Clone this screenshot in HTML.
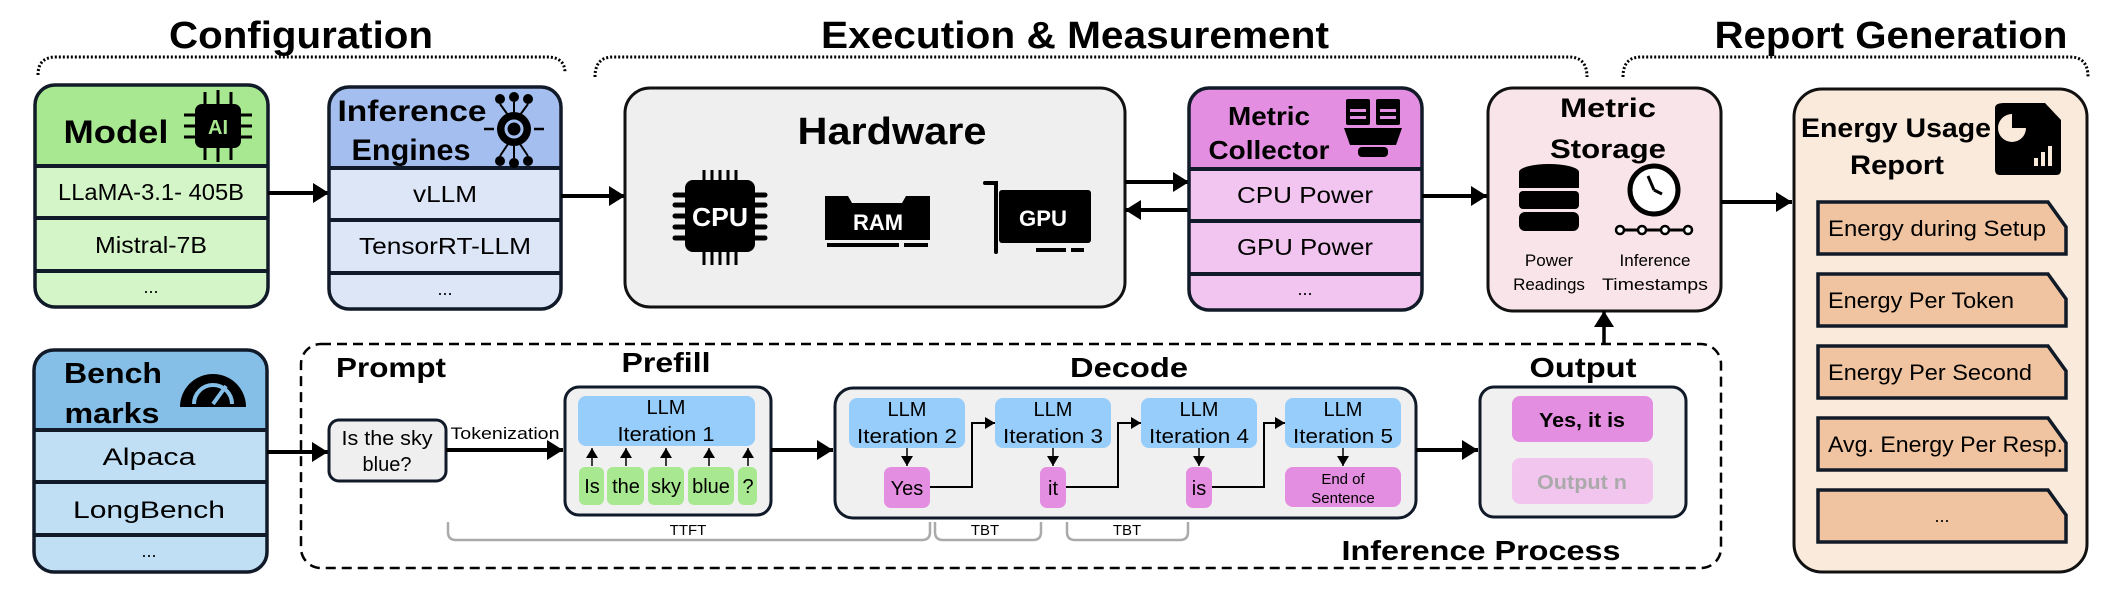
<!DOCTYPE html>
<html><head><meta charset="utf-8"><style>
html,body{margin:0;padding:0;background:#fff;}
svg{display:block;font-family:"Liberation Sans",sans-serif;}
.b{font-weight:bold;}
</style></head><body>
<svg width="2114" height="598" viewBox="0 0 2114 598" xmlns="http://www.w3.org/2000/svg">
<defs>
<marker id="big" markerUnits="userSpaceOnUse" markerWidth="18" markerHeight="20" refX="16" refY="10" orient="auto"><path d="M0,0 L16,10 L0,20 Z" fill="#000"/></marker>
<marker id="sm" markerUnits="userSpaceOnUse" markerWidth="12" markerHeight="12" refX="10" refY="6" orient="auto"><path d="M0,0 L10,6 L0,12 Z" fill="#000"/></marker>
</defs>

<!-- Titles -->
<text x="301" y="48" font-size="38" class="b" text-anchor="middle" textLength="264" lengthAdjust="spacingAndGlyphs">Configuration</text>
<text x="1075" y="48" font-size="38" class="b" text-anchor="middle" textLength="508" lengthAdjust="spacingAndGlyphs">Execution &amp; Measurement</text>
<text x="1891" y="48" font-size="38" class="b" text-anchor="middle" textLength="353" lengthAdjust="spacingAndGlyphs">Report Generation</text>
<g fill="none" stroke="#000" stroke-width="3" stroke-dasharray="2,2">
<path d="M38,75 Q38,57 56,57 L547,57 Q565,57 565,73"/>
<path d="M595,77 Q595,57 613,57 L1569,57 Q1587,57 1587,77"/>
<path d="M1623,77 Q1623,57 1641,57 L2070,57 Q2088,57 2088,77"/>
</g>

<!-- Model -->
<rect x="35" y="85" width="233" height="222" rx="20" fill="#d4f5c8"/>
<path d="M35,166 V105 Q35,85 55,85 H248 Q268,85 268,105 V166 Z" fill="#a8e890"/>
<g stroke="#111a28" stroke-width="4"><line x1="35" y1="166" x2="268" y2="166"/><line x1="35" y1="218" x2="268" y2="218"/><line x1="35" y1="271" x2="268" y2="271"/></g>
<rect x="35" y="85" width="233" height="222" rx="20" fill="none" stroke="#111a28" stroke-width="3.5"/>
<text x="116" y="143" font-size="32" class="b" text-anchor="middle" textLength="105" lengthAdjust="spacingAndGlyphs">Model</text>
<g>
<rect x="195" y="104" width="46" height="44" rx="7" fill="#000"/>
<g stroke="#000" stroke-width="3"><line x1="205" y1="92" x2="205" y2="160"/><line x1="218" y1="90" x2="218" y2="162"/><line x1="231" y1="92" x2="231" y2="160"/><line x1="184" y1="115" x2="252" y2="115"/><line x1="184" y1="126" x2="252" y2="126"/><line x1="184" y1="137" x2="252" y2="137"/></g>
<rect x="199" y="108" width="38" height="36" rx="5" fill="#000"/>
<text x="218" y="134" font-size="20" class="b" fill="#a8e890" text-anchor="middle">AI</text>
</g>
<text x="151" y="200" font-size="23" text-anchor="middle" textLength="186" lengthAdjust="spacingAndGlyphs">LLaMA-3.1- 405B</text>
<text x="151" y="253" font-size="23" text-anchor="middle" textLength="112" lengthAdjust="spacingAndGlyphs">Mistral-7B</text>
<text x="151" y="293" font-size="18" text-anchor="middle">...</text>
<line x1="268" y1="193" x2="329" y2="193" stroke="#000" stroke-width="4" marker-end="url(#big)"/>

<!-- Engines -->
<rect x="329" y="87" width="232" height="222" rx="20" fill="#dce6f7"/>
<path d="M329,168 V107 Q329,87 349,87 H541 Q561,87 561,107 V168 Z" fill="#a4bfef"/>
<g stroke="#111a28" stroke-width="4"><line x1="329" y1="168" x2="561" y2="168"/><line x1="329" y1="220" x2="561" y2="220"/><line x1="329" y1="273" x2="561" y2="273"/></g>
<rect x="329" y="87" width="232" height="222" rx="20" fill="none" stroke="#111a28" stroke-width="3.5"/>
<text x="412" y="121" font-size="30" class="b" text-anchor="middle" textLength="149" lengthAdjust="spacingAndGlyphs">Inference</text>
<text x="411" y="160" font-size="30" class="b" text-anchor="middle" textLength="119" lengthAdjust="spacingAndGlyphs">Engines</text>
<g fill="#000">
<circle cx="514" cy="129" r="17"/>
<circle cx="514" cy="129" r="8" fill="none" stroke="#a4bfef" stroke-width="3"/>
<circle cx="500" cy="99" r="5"/><circle cx="514" cy="97" r="5"/><circle cx="528" cy="99" r="5"/>
<circle cx="500" cy="161" r="5"/><circle cx="514" cy="163" r="5"/><circle cx="528" cy="161" r="5"/>
<path d="M484,129 h10 M534,129 h10" stroke="#000" stroke-width="2.5"/>
<path d="M500,104 L508,115 M514,102 V112 M528,104 L520,115 M500,156 L508,144 M514,158 V146 M528,156 L520,144" stroke="#000" stroke-width="2"/>
</g>
<text x="445" y="202" font-size="23" text-anchor="middle" textLength="64" lengthAdjust="spacingAndGlyphs">vLLM</text>
<text x="445" y="254" font-size="23" text-anchor="middle" textLength="172" lengthAdjust="spacingAndGlyphs">TensorRT-LLM</text>
<text x="445" y="295" font-size="18" text-anchor="middle">...</text>
<line x1="561" y1="196" x2="625" y2="196" stroke="#000" stroke-width="4" marker-end="url(#big)"/>

<!-- Hardware -->
<rect x="625" y="88" width="500" height="219" rx="25" fill="#efefef" stroke="#111" stroke-width="3"/>
<text x="892" y="144" font-size="38" class="b" text-anchor="middle" textLength="189" lengthAdjust="spacingAndGlyphs">Hardware</text>
<!-- CPU -->
<g>
<g stroke="#000" stroke-width="3"><line x1="704" y1="170" x2="704" y2="265"/><line x1="712" y1="170" x2="712" y2="265"/><line x1="720" y1="170" x2="720" y2="265"/><line x1="728" y1="170" x2="728" y2="265"/><line x1="736" y1="170" x2="736" y2="265"/></g>
<g stroke="#000" stroke-width="5" stroke-linecap="round"><line x1="675" y1="195" x2="765" y2="195"/><line x1="675" y1="205" x2="765" y2="205"/><line x1="675" y1="216" x2="765" y2="216"/><line x1="675" y1="227" x2="765" y2="227"/><line x1="675" y1="238" x2="765" y2="238"/></g>
<rect x="685" y="180" width="70" height="72" rx="8" fill="#000"/>
<text x="720" y="226" font-size="26" class="b" fill="#fff" text-anchor="middle" textLength="56" lengthAdjust="spacingAndGlyphs">CPU</text>
</g>
<!-- RAM -->
<path d="M825,196 H848 L852,203 H902 L906,196 H930 V240 H825 Z" fill="#000"/>
<rect x="827" y="243" width="72" height="4" fill="#000"/><rect x="904" y="243" width="24" height="4" fill="#000"/>
<text x="878" y="230" font-size="22" class="b" fill="#fff" text-anchor="middle" textLength="50" lengthAdjust="spacingAndGlyphs">RAM</text>
<!-- GPU -->
<path d="M985,183 H996 V252" fill="none" stroke="#000" stroke-width="4" stroke-linecap="round"/>
<rect x="999" y="190" width="92" height="53" rx="3" fill="#000"/>
<rect x="1036" y="248" width="30" height="4" fill="#000"/><rect x="1071" y="248" width="13" height="4" fill="#000"/>
<text x="1043" y="226" font-size="22" class="b" fill="#fff" text-anchor="middle" textLength="48" lengthAdjust="spacingAndGlyphs">GPU</text>

<!-- HW <-> collector -->
<line x1="1125" y1="182" x2="1189" y2="182" stroke="#000" stroke-width="4" marker-end="url(#big)"/>
<line x1="1189" y1="210" x2="1125" y2="210" stroke="#000" stroke-width="4" marker-end="url(#big)"/>

<!-- Collector -->
<rect x="1189" y="88" width="233" height="222" rx="20" fill="#f1c5ef"/>
<path d="M1189,169 V108 Q1189,88 1209,88 H1402 Q1422,88 1422,108 V169 Z" fill="#e38ee0"/>
<g stroke="#111a28" stroke-width="4"><line x1="1189" y1="169" x2="1422" y2="169"/><line x1="1189" y1="221" x2="1422" y2="221"/><line x1="1189" y1="274" x2="1422" y2="274"/></g>
<rect x="1189" y="88" width="233" height="222" rx="20" fill="none" stroke="#111a28" stroke-width="3.5"/>
<text x="1269" y="125" font-size="26" class="b" text-anchor="middle" textLength="82" lengthAdjust="spacingAndGlyphs">Metric</text>
<text x="1269" y="159" font-size="26" class="b" text-anchor="middle" textLength="121" lengthAdjust="spacingAndGlyphs">Collector</text>
<g fill="#000">
<rect x="1346" y="99" width="24" height="26" rx="2"/><rect x="1376" y="99" width="24" height="26" rx="2"/>
<rect x="1350" y="109" width="16" height="3" fill="#e38ee0"/><rect x="1350" y="116" width="16" height="3" fill="#e38ee0"/>
<rect x="1380" y="109" width="16" height="3" fill="#e38ee0"/><rect x="1380" y="116" width="16" height="3" fill="#e38ee0"/>
<path d="M1344,128 H1402 L1396,145 H1350 Z"/>
<rect x="1358" y="147" width="30" height="10" rx="4"/>
</g>
<text x="1305" y="203" font-size="23" text-anchor="middle" textLength="136" lengthAdjust="spacingAndGlyphs">CPU Power</text>
<text x="1305" y="255" font-size="23" text-anchor="middle" textLength="136" lengthAdjust="spacingAndGlyphs">GPU Power</text>
<text x="1305" y="295" font-size="18" text-anchor="middle">...</text>
<line x1="1422" y1="196" x2="1487" y2="196" stroke="#000" stroke-width="4" marker-end="url(#big)"/>

<!-- Storage -->
<rect x="1488" y="88" width="233" height="223" rx="25" fill="#f9e4e9" stroke="#111" stroke-width="3"/>
<text x="1608" y="117" font-size="27" class="b" text-anchor="middle" textLength="96" lengthAdjust="spacingAndGlyphs">Metric</text>
<text x="1608" y="158" font-size="27" class="b" text-anchor="middle" textLength="116" lengthAdjust="spacingAndGlyphs">Storage</text>
<g fill="#000">
<ellipse cx="1549" cy="172" rx="30" ry="8"/>
<rect x="1519" y="172" width="60" height="16"/>
<rect x="1519" y="191" width="60" height="18" rx="4"/>
<rect x="1519" y="212" width="60" height="19" rx="6"/>
</g>
<circle cx="1654" cy="190" r="24" fill="#fff" stroke="#000" stroke-width="5"/>
<path d="M1654,190 L1648,176 M1654,190 L1662,194" stroke="#000" stroke-width="3"/>
<line x1="1616" y1="230" x2="1692" y2="230" stroke="#000" stroke-width="3"/>
<g fill="#fff" stroke="#000" stroke-width="2.5"><circle cx="1620" cy="230" r="4"/><circle cx="1642" cy="230" r="4"/><circle cx="1665" cy="230" r="4"/><circle cx="1688" cy="230" r="4"/></g>
<text x="1549" y="266" font-size="17" text-anchor="middle">Power</text>
<text x="1549" y="290" font-size="17" text-anchor="middle">Readings</text>
<text x="1655" y="266" font-size="17" text-anchor="middle">Inference</text>
<text x="1655" y="290" font-size="17" text-anchor="middle" textLength="106" lengthAdjust="spacingAndGlyphs">Timestamps</text>
<line x1="1721" y1="202" x2="1792" y2="202" stroke="#000" stroke-width="4" marker-end="url(#big)"/>

<!-- Report -->
<rect x="1794" y="89" width="293" height="483" rx="28" fill="#faeadc" stroke="#111" stroke-width="3"/>
<text x="1896" y="137" font-size="27" class="b" text-anchor="middle" textLength="190" lengthAdjust="spacingAndGlyphs">Energy Usage</text>
<text x="1897" y="174" font-size="27" class="b" text-anchor="middle" textLength="94" lengthAdjust="spacingAndGlyphs">Report</text>
<path d="M2004,103 H2045 L2061,120 V170 Q2061,175 2056,175 H2000 Q1995,175 1995,170 V108 Q1995,103 2004,103 Z" fill="#000"/>
<path d="M2012,114 A14,14 0 1 0 2026,128 H2012 Z" fill="#faeadc"/>
<g fill="#faeadc"><rect x="2034" y="158" width="4" height="8"/><rect x="2041" y="152" width="4" height="14"/><rect x="2048" y="146" width="4" height="20"/></g>
<g fill="#f0c4a0" stroke="#111a28" stroke-width="3.5">
<path d="M1818,202 H2048 L2066,227 V254 H1818 Z"/>
<path d="M1818,274 H2048 L2066,299 V326 H1818 Z"/>
<path d="M1818,346 H2048 L2066,371 V398 H1818 Z"/>
<path d="M1818,418 H2048 L2066,443 V470 H1818 Z"/>
<path d="M1818,490 H2048 L2066,515 V542 H1818 Z"/>
</g>
<text x="1828" y="236" font-size="22" textLength="218" lengthAdjust="spacingAndGlyphs">Energy during Setup</text>
<text x="1828" y="308" font-size="22" textLength="186" lengthAdjust="spacingAndGlyphs">Energy Per Token</text>
<text x="1828" y="380" font-size="22" textLength="204" lengthAdjust="spacingAndGlyphs">Energy Per Second</text>
<text x="1828" y="452" font-size="22" textLength="235" lengthAdjust="spacingAndGlyphs">Avg. Energy Per Resp.</text>
<text x="1942" y="522" font-size="18" text-anchor="middle">...</text>

<!-- Benchmarks -->
<rect x="34" y="350" width="233" height="222" rx="20" fill="#c0dff5"/>
<path d="M34,430 V370 Q34,350 54,350 H247 Q267,350 267,370 V430 Z" fill="#85bfe8"/>
<g stroke="#111a28" stroke-width="4"><line x1="34" y1="430" x2="267" y2="430"/><line x1="34" y1="482" x2="267" y2="482"/><line x1="34" y1="535" x2="267" y2="535"/></g>
<rect x="34" y="350" width="233" height="222" rx="20" fill="none" stroke="#111a28" stroke-width="3.5"/>
<text x="113" y="383" font-size="29" class="b" text-anchor="middle" textLength="98" lengthAdjust="spacingAndGlyphs">Bench</text>
<text x="112" y="423" font-size="29" class="b" text-anchor="middle" textLength="95" lengthAdjust="spacingAndGlyphs">marks</text>
<path d="M180,407 A33,33 0 0 1 246,407 Z" fill="#000"/>
<path d="M194,404 A19,19 0 0 1 232,404" fill="none" stroke="#85bfe8" stroke-width="4"/>
<line x1="213" y1="404" x2="226" y2="386" stroke="#85bfe8" stroke-width="4"/>
<text x="149" y="465" font-size="24" text-anchor="middle" textLength="93" lengthAdjust="spacingAndGlyphs">Alpaca</text>
<text x="149" y="518" font-size="24" text-anchor="middle" textLength="152" lengthAdjust="spacingAndGlyphs">LongBench</text>
<text x="149" y="557" font-size="18" text-anchor="middle">...</text>
<line x1="267" y1="452" x2="328" y2="452" stroke="#000" stroke-width="4" marker-end="url(#big)"/>

<!-- Inference process dashed -->
<rect x="301" y="344" width="1420" height="224" rx="20" fill="none" stroke="#000" stroke-width="2.5" stroke-dasharray="10,6"/>
<line x1="1604" y1="344" x2="1604" y2="311" stroke="#000" stroke-width="3.5" marker-end="url(#big)"/>
<text x="391" y="377" font-size="28" class="b" text-anchor="middle" textLength="110" lengthAdjust="spacingAndGlyphs">Prompt</text>
<text x="666" y="372" font-size="28" class="b" text-anchor="middle" textLength="89" lengthAdjust="spacingAndGlyphs">Prefill</text>
<text x="1129" y="377" font-size="28" class="b" text-anchor="middle" textLength="118" lengthAdjust="spacingAndGlyphs">Decode</text>
<text x="1583" y="377" font-size="28" class="b" text-anchor="middle" textLength="107" lengthAdjust="spacingAndGlyphs">Output</text>
<text x="1481" y="560" font-size="28" class="b" text-anchor="middle" textLength="279" lengthAdjust="spacingAndGlyphs">Inference Process</text>

<!-- Prompt box -->
<rect x="329" y="420" width="117" height="61" rx="10" fill="#efefef" stroke="#111a28" stroke-width="3"/>
<text x="387" y="445" font-size="20" text-anchor="middle" textLength="91" lengthAdjust="spacingAndGlyphs">Is the sky</text>
<text x="387" y="471" font-size="20" text-anchor="middle">blue?</text>
<text x="505" y="439" font-size="17" text-anchor="middle" textLength="109" lengthAdjust="spacingAndGlyphs">Tokenization</text>
<line x1="446" y1="450" x2="563" y2="450" stroke="#000" stroke-width="4" marker-end="url(#big)"/>

<!-- Prefill -->
<rect x="565" y="387" width="206" height="128" rx="14" fill="#f0f0f0" stroke="#111a28" stroke-width="3"/>
<rect x="578" y="396" width="177" height="50" rx="8" fill="#96cdfa"/>
<text x="666" y="414" font-size="20" text-anchor="middle">LLM</text>
<text x="666" y="441" font-size="20" text-anchor="middle" textLength="97" lengthAdjust="spacingAndGlyphs">Iteration 1</text>
<g fill="#a8e890"><rect x="579" y="467" width="25" height="38" rx="6"/><rect x="607" y="467" width="37" height="38" rx="6"/><rect x="648" y="467" width="36" height="38" rx="6"/><rect x="688" y="467" width="46" height="38" rx="6"/><rect x="738" y="467" width="19" height="38" rx="6"/></g>
<g font-size="20" text-anchor="middle"><text x="592" y="493">Is</text><text x="626" y="493">the</text><text x="666" y="493">sky</text><text x="711" y="493">blue</text><text x="748" y="493">?</text></g>
<g stroke="#000" stroke-width="1.5" marker-end="url(#sm)"><line x1="592" y1="466" x2="592" y2="448"/><line x1="626" y1="466" x2="626" y2="448"/><line x1="666" y1="466" x2="666" y2="448"/><line x1="709" y1="466" x2="709" y2="448"/><line x1="748" y1="466" x2="748" y2="448"/></g>
<line x1="771" y1="450" x2="833" y2="450" stroke="#000" stroke-width="4" marker-end="url(#big)"/>

<!-- Decode -->
<rect x="835" y="388" width="581" height="130" rx="18" fill="#f0f0f0" stroke="#111a28" stroke-width="3"/>
<g fill="#96cdfa"><rect x="849" y="398" width="116" height="50" rx="8"/><rect x="995" y="398" width="116" height="50" rx="8"/><rect x="1141" y="398" width="116" height="50" rx="8"/><rect x="1285" y="398" width="116" height="50" rx="8"/></g>
<g font-size="20" text-anchor="middle">
<text x="907" y="416">LLM</text><text x="907" y="443" textLength="100" lengthAdjust="spacingAndGlyphs">Iteration 2</text>
<text x="1053" y="416">LLM</text><text x="1053" y="443" textLength="100" lengthAdjust="spacingAndGlyphs">Iteration 3</text>
<text x="1199" y="416">LLM</text><text x="1199" y="443" textLength="100" lengthAdjust="spacingAndGlyphs">Iteration 4</text>
<text x="1343" y="416">LLM</text><text x="1343" y="443" textLength="100" lengthAdjust="spacingAndGlyphs">Iteration 5</text>
</g>
<g fill="#e38ee0"><rect x="884" y="467" width="46" height="41" rx="7"/><rect x="1040" y="467" width="26" height="41" rx="7"/><rect x="1186" y="467" width="26" height="41" rx="7"/><rect x="1285" y="467" width="116" height="40" rx="8"/></g>
<g text-anchor="middle"><text x="907" y="495" font-size="20">Yes</text><text x="1053" y="495" font-size="20">it</text><text x="1199" y="495" font-size="20">is</text>
<text x="1343" y="484" font-size="15">End of</text><text x="1343" y="503" font-size="15">Sentence</text></g>
<g stroke="#000" stroke-width="1.5" marker-end="url(#sm)"><line x1="907" y1="448" x2="907" y2="466"/><line x1="1053" y1="448" x2="1053" y2="466"/><line x1="1199" y1="448" x2="1199" y2="466"/><line x1="1343" y1="448" x2="1343" y2="466"/></g>
<g fill="none" stroke="#000" stroke-width="2" marker-end="url(#sm)"><path d="M930,487 H972 V423 H995"/><path d="M1066,487 H1118 V423 H1141"/><path d="M1212,487 H1264 V423 H1285"/></g>
<line x1="1416" y1="450" x2="1478" y2="450" stroke="#000" stroke-width="4" marker-end="url(#big)"/>

<!-- brackets -->
<g fill="none" stroke="#aaa" stroke-width="2.5">
<path d="M448,522 V532 Q448,540 456,540 H922 Q930,540 930,532 V522"/>
<path d="M935,522 V532 Q935,540 943,540 H1033 Q1041,540 1041,532 V522"/>
<path d="M1067,522 V532 Q1067,540 1075,540 H1180 Q1188,540 1188,532 V522"/>
</g>
<g font-size="15" text-anchor="middle"><text x="688" y="535">TTFT</text><text x="985" y="535">TBT</text><text x="1127" y="535">TBT</text></g>

<!-- Output -->
<rect x="1480" y="387" width="206" height="130" rx="14" fill="#f0f0f0" stroke="#111a28" stroke-width="3"/>
<rect x="1512" y="396" width="141" height="46" rx="8" fill="#e38ee0"/>
<rect x="1512" y="458" width="141" height="46" rx="8" fill="#f2c5ef"/>
<text x="1582" y="427" font-size="20" class="b" text-anchor="middle" textLength="86" lengthAdjust="spacingAndGlyphs">Yes, it is</text>
<text x="1582" y="489" font-size="20" class="b" fill="#aaa" text-anchor="middle" textLength="90" lengthAdjust="spacingAndGlyphs">Output n</text>
</svg>
</body></html>
